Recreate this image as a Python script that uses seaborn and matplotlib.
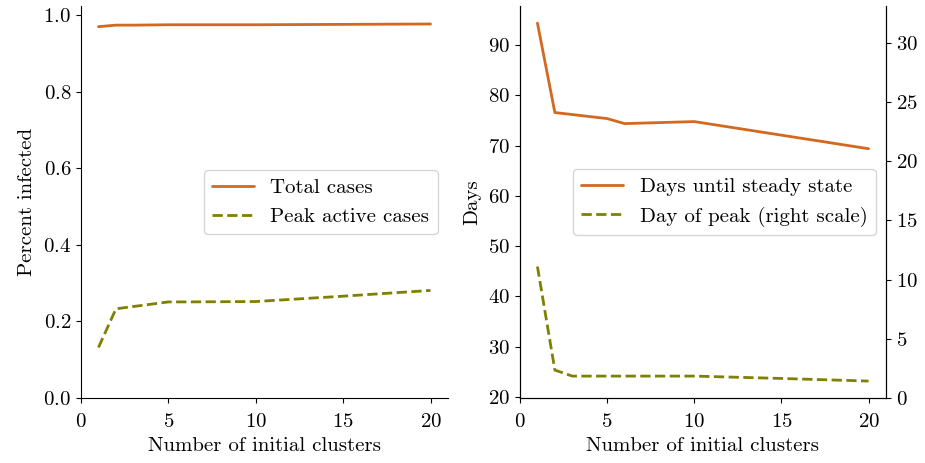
import numpy as np
import pandas as pd
import seaborn as sns
import matplotlib.pyplot as plt

# datos
clusters = [1, 2, 3, 5, 6, 10, 15, 20]
total_cases = [0.970, 0.974, 0.974, 0.975, 0.975, 0.975, 0.976, 0.977]
peak_active = [0.132, 0.233, 0.239, 0.251, 0.251, 0.252, 0.266, 0.281]
days_steady = [94.4, 76.6, 76.2, 75.4, 74.4, 74.8, 72.1, 69.4]
day_peak = [11.1, 2.36, 1.85, 1.85, 1.85, 1.85, 1.65, 1.43]

sns.set_style("ticks")
plt.rcParams['font.family'] = ['cmr10', 'DejaVu Serif']
plt.rcParams['axes.formatter.use_mathtext'] = True
plt.rcParams['mathtext.fontset'] = 'cm'
plt.rcParams.update({
    'font.size': 15,
    'axes.labelsize': 15,
    'xtick.labelsize': 15,
    'ytick.labelsize': 15,
    'legend.fontsize': 15,
    'xtick.major.pad': 7,
    'axes.labelpad': 5,
    'axes.edgecolor': 'black',
    'xtick.color': 'black',
    'ytick.color': 'black',
    'text.color': 'black',
    'axes.labelcolor': 'black',
})

orange = '#d2691e'
olive = '#808000'
lw = 2.0

df = pd.DataFrame({'clusters': clusters, 'total': total_cases, 'peak': peak_active,
                   'steady': days_steady, 'daypeak': day_peak})

fig = plt.figure(figsize=(9.25, 4.63), dpi=100)
ax1 = fig.add_axes([81 / 925, 65 / 463, 367 / 925, 392 / 463])
ax2 = fig.add_axes([520 / 925, 65 / 463, 366 / 925, 392 / 463])

# panel izquierdo
sns.lineplot(data=df, x='clusters', y='total', ax=ax1, color=orange, lw=lw, label='Total cases')
sns.lineplot(data=df, x='clusters', y='peak', ax=ax1, color=olive, lw=lw, ls='--', label='Peak active cases')
ax1.set_xlim(0, 21)
ax1.set_ylim(0, 1.024)
ax1.set_xticks([0, 5, 10, 15, 20])
ax1.set_yticks([0, 0.2, 0.4, 0.6, 0.8, 1.0])
ax1.set_xlabel('Number of initial clusters')
ax1.set_ylabel('Percent infected')
ax1.legend(loc='center right', bbox_to_anchor=(1.0, 0.5))
sns.despine(ax=ax1)

# panel derecho con doble eje
ax3 = ax2.twinx()
sns.lineplot(data=df, x='clusters', y='steady', ax=ax2, color=orange, lw=lw, legend=False)
sns.lineplot(data=df, x='clusters', y='daypeak', ax=ax3, color=olive, lw=lw, ls='--', legend=False)
ax2.set_xlim(0, 21)
ax2.set_ylim(19.8, 97.8)
ax3.set_ylim(0, 33.1)
ax2.set_xticks([0, 5, 10, 15, 20])
ax2.set_yticks([20, 30, 40, 50, 60, 70, 80, 90])
ax3.set_yticks([0, 5, 10, 15, 20, 25, 30])
ax2.set_xlabel('Number of initial clusters')
ax2.set_ylabel('Days')
ax3.set_ylabel('')
h1 = plt.Line2D([], [], color=orange, lw=lw)
h2 = plt.Line2D([], [], color=olive, lw=lw, ls='--')
ax2.legend([h1, h2], ['Days until steady state', 'Day of peak (right scale)'],
           loc='center right', bbox_to_anchor=(1.0, 0.5))
ax2.spines['top'].set_visible(False)
ax3.spines['top'].set_visible(False)

fig.savefig('out.png', dpi=100)
